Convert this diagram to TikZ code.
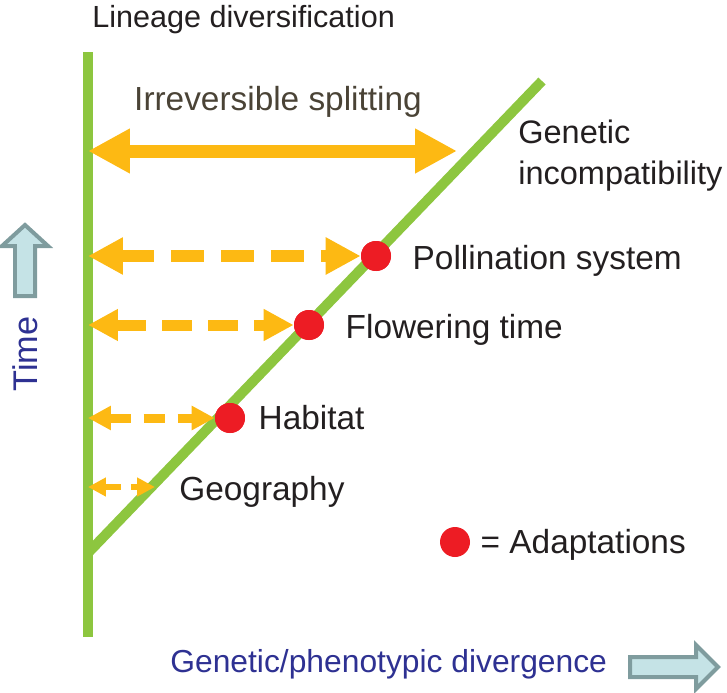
\documentclass[tikz,border=0pt]{standalone}
\usepackage{fontspec}
\setmainfont{Liberation Sans}
\usetikzlibrary{arrows.meta,positioning}

\definecolor{branchgreen}{RGB}{141,198,63}
\definecolor{splitorange}{RGB}{253,185,19}
\definecolor{adaptred}{RGB}{237,28,36}
\definecolor{labelblack}{RGB}{35,31,32}
\definecolor{splitbrown}{RGB}{74,67,54}
\definecolor{axisblue}{RGB}{46,49,146}
\definecolor{blockfill}{RGB}{197,227,230}
\definecolor{blockedge}{RGB}{127,156,158}

\tikzset{
  branch/.style={branchgreen, line width=0.2cm},
  splitarrow/.style 2 args={splitorange, line width=#1,
    arrows={Triangle[length=#2,width=#2]-Triangle[length=#2,width=#2]}},
  adaptation/.style={circle, fill=adaptred, minimum size=0.6cm, inner sep=0pt},
  caption/.style={anchor=west, inner sep=0pt, text=labelblack,
    font=\fontsize{#1}{23.3}\selectfont},
  caption/.default=19,
  blockarrow/.style={fill=blockfill, draw=blockedge, line width=0.08cm, line join=miter},
}

\begin{document}
\begin{tikzpicture}[x=0.02cm, y=-0.02cm]
            \useasboundingbox (0, 0) rectangle (727, 693);

            \coordinate (stemtop) at (88, 52);
            \coordinate (stembase) at (88, 637);
            \coordinate (fork) at (88, 553);
            \coordinate (forktip) at (542, 81);
            \draw[branch] (stemtop) -- (stembase);
            \draw[branch] (fork) -- (forktip);

            \coordinate (split) at (457, 151);
            \coordinate (geography) at (155, 487);
            \node[adaptation] (pollination) at (376, 256) {};
            \node[adaptation] (flowering) at (309, 325) {};
            \node[adaptation] (habitat) at (230, 418) {};

            \draw[splitarrow={0.26cm}{0.84cm}] (stemtop |- split) -- (split);
            \draw[splitarrow={0.24cm}{0.7cm}, dash pattern=on 0.66cm off 0.34cm]
                (stemtop |- pollination) -- (pollination.west);
            \draw[splitarrow={0.22cm}{0.6cm}, dash pattern=on 0.6cm off 0.32cm]
                (stemtop |- flowering) -- (flowering.west);
            \draw[splitarrow={0.18cm}{0.46cm}, dash pattern=on 0.42cm off 0.26cm]
                (stemtop |- habitat) -- (habitat.west);
            \draw[splitarrow={0.11cm}{0.36cm}, dash pattern=on 0.32cm off 0.2cm]
                (stemtop |- geography) -- (geography);

            \node[adaptation] at (pollination) {};
            \node[adaptation] at (flowering) {};
            \node[adaptation] at (habitat) {};
            \node[adaptation] (legend) at (455, 542) {};

            \node[caption=17.4] (title) at (92, 20) {Lineage diversification};
            \node[caption, anchor=center, text=splitbrown] (splitlabel) at (278, 102) {Irreversible splitting};
            \node[caption=18.5, align=left] (incompat) at (518, 156) {Genetic\\incompatibility};
            \node[caption, right=0.42cm of pollination, yshift=-0.1cm] (pollinationlabel) {Pollination system};
            \node[caption, right=0.42cm of flowering, yshift=-0.1cm] (floweringlabel) {Flowering time};
            \node[caption, right=0.26cm of habitat] (habitatlabel) {Habitat};
            \node[caption, right=0.48cm of geography, yshift=-0.1cm] (geographylabel) {Geography};
            \node[caption, right=0.2cm of legend, yshift=-0.06cm] (legendlabel) {= Adaptations};

            \draw[blockarrow] (25, 225) -- (48, 246) -- (35, 246) -- (35, 296)
                -- (15, 296) -- (15, 246) -- (2, 246) -- cycle;
            \node[caption=19.5, anchor=center, rotate=90, text=axisblue] (time) at (25, 354) {Time};

            \draw[blockarrow] (718, 667) -- (696, 645) -- (696, 657) -- (630, 657)
                -- (630, 677) -- (696, 677) -- (696, 689) -- cycle;
            \node[caption=18.1, text=axisblue] (divergence) at (170, 664) {Genetic/phenotypic divergence};
        \end{tikzpicture}
\end{document}
